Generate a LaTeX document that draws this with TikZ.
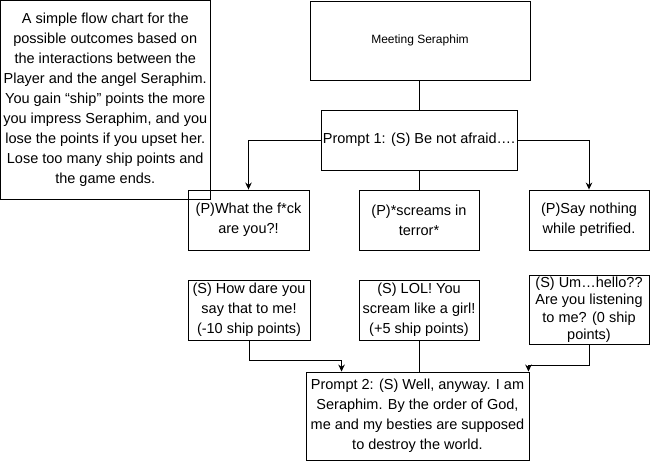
\documentclass[tikz,border=0pt]{standalone}
\usepackage{fontspec}
\setmainfont{Liberation Sans}
\usetikzlibrary{arrows.meta,calc}
\begin{document}
\begin{tikzpicture}[x=1pt,y=-1pt,line width=0.9pt,
every node/.style={font=\fontsize{14.5}{20}\selectfont,align=center,inner sep=1pt},
box/.style={draw,rectangle},
arr/.style={-{Stealth[length=7pt,width=6.5pt]}}]
\useasboundingbox (0,0) rectangle (650,461);
%\fill[white] (0,0) rectangle (650,461);
\node (text1) at (105.25,100) [box,minimum width=209.5,minimum height=199] {A simple flow chart for the\\ possible outcomes based on\\ the interactions between the\\ Player and the angel Seraphim.\\ You gain “ship” points the more\\ you impress Seraphim, and you\\ lose the points if you upset her.\\ Lose too many ship points and\\ the game ends.};
\node (m1) at (420,40.5) [box,minimum width=220,minimum height=79,font=\fontsize{12}{14}\selectfont] {Meeting Seraphim};
\node (q1) at (419,140) [box,minimum width=196,minimum height=60] {Prompt 1: (S) Be not afraid\dots.};
\node (p1) at (248.5,220) [box,minimum width=121,minimum height=60] {(P)What the f*ck\\ are you?!};
\node (p2) at (419,220) [box,minimum width=120,minimum height=60] {(P)*screams in\\ terror*};
\node (p3) at (589,220) [box,minimum width=120,minimum height=60] {(P)Say nothing\\ while petrified.};
\node (s1) at (249,310) [box,minimum width=122,minimum height=60] {(S) How dare you\\ say that to me!\\ (-10 ship points)};
\node (s2) at (419,310) [box,minimum width=120,minimum height=60] {(S) LOL! You\\ scream like a girl!\\ (+5 ship points)};
\node (s3) at (589,309.5) [box,minimum width=120,minimum height=69,font=\fontsize{14.5}{17.5}\selectfont] {(S) Um\dots hello??\\ Are you listening\\ to me? (0 ship\\ points)};
\node (q2) at (417.5,416) [box,minimum width=223,minimum height=88] {Prompt 2: (S) Well, anyway. I am\\ Seraphim. By the order of God,\\ me and my besties are supposed\\ to destroy the world.};
\draw (q1.north)--(q1.north |- m1.south);
\draw[arr] (q1.west) -| (p1.north);
\draw[arr] (q1.east) -| (p3.north);
\draw (q1.south)--(p2.north);
\draw[arr] (s1.south) -- ++(0,20) -| ($(q2.north west)+(36,0)$);
\draw (s2.south)--(s2.south |- q2.north);
\draw[arr] (s3.south) -- ++(0,21) -| ($(q2.north east)+(-1,0)$);
\end{tikzpicture}
\end{document}
